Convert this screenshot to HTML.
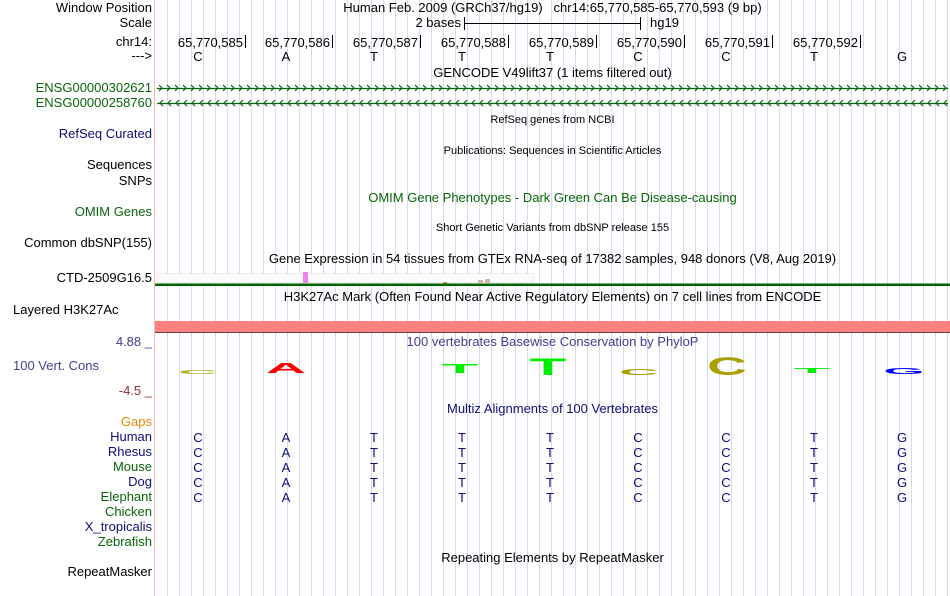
<!DOCTYPE html>
<html><head><meta charset="utf-8"><style>
body{margin:0;width:950px;height:596px;overflow:hidden;background:#fff;position:relative;font-family:"Liberation Sans",sans-serif;font-size:13px;color:#000}
.grid{position:absolute;left:155px;top:0;width:795px;height:596px;background:repeating-linear-gradient(to right,transparent 0,transparent 11px,#d8d8f0 11px,#d8d8f0 12px);background-position:1px 0}
.pl{position:absolute;left:154px;top:0;width:1px;height:596px;background:#ffb8b8}
.l{position:absolute;right:798px;line-height:14px;white-space:nowrap;text-align:right}
.t{position:absolute;left:155px;width:795px;text-align:center;line-height:14px;white-space:nowrap}
.s{font-size:11px}
.a{position:absolute;line-height:14px;white-space:nowrap}
.n{color:#0e0e78}.g{color:#0a640a}
</style></head><body>
<div class="grid"></div><div class="pl"></div>

<div class="l" style="top:1px">Window Position</div>
<div class="l" style="top:16px">Scale</div>
<div class="l" style="top:35px">chr14:</div>
<div class="l" style="top:49px">---&gt;</div>
<div class="l g" style="top:81px">ENSG00000302621</div>
<div class="l g" style="top:96px">ENSG00000258760</div>
<div class="l n" style="top:127px">RefSeq Curated</div>
<div class="l" style="top:158px">Sequences</div>
<div class="l" style="top:174px">SNPs</div>
<div class="l g" style="top:205px">OMIM Genes</div>
<div class="l" style="top:236px">Common dbSNP(155)</div>
<div class="l" style="top:271px">CTD-2509G16.5</div>
<div class="a" style="left:13px;top:303px">Layered H3K27Ac</div>
<div class="l" style="top:335px;color:#404090">4.88 _</div>
<div class="a" style="left:13px;top:359px;color:#404090">100 Vert. Cons</div>
<div class="l" style="top:384px;color:#8a3030">-4.5 _</div>
<div class="l" style="top:415px;color:#e08a00">Gaps</div>
<div class="l n" style="top:430px">Human</div>
<div class="l n" style="top:445px">Rhesus</div>
<div class="l g" style="top:460px">Mouse</div>
<div class="l n" style="top:475px">Dog</div>
<div class="l g" style="top:490px">Elephant</div>
<div class="l g" style="top:505px">Chicken</div>
<div class="l n" style="top:520px">X_tropicalis</div>
<div class="l g" style="top:535px">Zebrafish</div>
<div class="l" style="top:565px">RepeatMasker</div>

<div class="t" style="top:1px">Human Feb. 2009 (GRCh37/hg19) &nbsp; chr14:65,770,585-65,770,593 (9 bp)</div>
<div class="a" style="right:489px;top:16px">2 bases</div>
<div class="a" style="left:650px;top:16px">hg19</div>
<div class="t" style="top:66px">GENCODE V49lift37 (1 items filtered out)</div>
<div class="t s" style="top:113px">RefSeq genes from NCBI</div>
<div class="t s" style="top:144px">Publications: Sequences in Scientific Articles</div>
<div class="t g" style="top:191px">OMIM Gene Phenotypes - Dark Green Can Be Disease-causing</div>
<div class="t s" style="top:221px">Short Genetic Variants from dbSNP release 155</div>
<div class="t" style="top:252px">Gene Expression in 54 tissues from GTEx RNA-seq of 17382 samples, 948 donors (V8, Aug 2019)</div>
<div class="t" style="top:290px">H3K27Ac Mark (Often Found Near Active Regulatory Elements) on 7 cell lines from ENCODE</div>
<div class="t" style="top:335px;color:#404090">100 vertebrates Basewise Conservation by PhyloP</div>
<div class="t n" style="top:402px">Multiz Alignments of 100 Vertebrates</div>
<div class="t" style="top:551px">Repeating Elements by RepeatMasker</div>

<svg width="950" height="596" style="position:absolute;left:0;top:0" xmlns="http://www.w3.org/2000/svg">
<defs>
<pattern id="rc" x="157" y="84" width="8" height="8" patternUnits="userSpaceOnUse"><path d="M2 1 L5 4 L2 7" fill="none" stroke="#0a640a" stroke-width="1.2"/></pattern>
<pattern id="lc" x="157" y="99" width="8" height="8" patternUnits="userSpaceOnUse"><path d="M6 1 L3 4 L6 7" fill="none" stroke="#0a640a" stroke-width="1.2"/></pattern>
</defs>
<g stroke="#000" stroke-width="1">
<line x1="464.5" y1="23.5" x2="640.5" y2="23.5"/><line x1="464.5" y1="17" x2="464.5" y2="30"/><line x1="640.5" y1="17" x2="640.5" y2="30"/>
<line x1="245.5" y1="35" x2="245.5" y2="48"/><line x1="332.5" y1="35" x2="332.5" y2="48"/><line x1="420.5" y1="35" x2="420.5" y2="48"/><line x1="508.5" y1="35" x2="508.5" y2="48"/><line x1="596.5" y1="35" x2="596.5" y2="48"/><line x1="684.5" y1="35" x2="684.5" y2="48"/><line x1="772.5" y1="35" x2="772.5" y2="48"/><line x1="860.5" y1="35" x2="860.5" y2="48"/>
</g>
<g font-family="Liberation Sans" font-size="13" text-anchor="end">
<text x="243" y="47">65,770,585</text><text x="330" y="47">65,770,586</text><text x="418" y="47">65,770,587</text><text x="506" y="47">65,770,588</text><text x="594" y="47">65,770,589</text><text x="682" y="47">65,770,590</text><text x="770" y="47">65,770,591</text><text x="858" y="47">65,770,592</text>
</g>
<g font-family="Liberation Sans" font-size="13" text-anchor="middle">
<text x="198" y="61">C</text><text x="286" y="61">A</text><text x="374" y="61">T</text><text x="462" y="61">T</text><text x="550" y="61">T</text><text x="638" y="61">C</text><text x="726" y="61">C</text><text x="814" y="61">T</text><text x="902" y="61">G</text>
</g>
<rect x="157" y="84" width="791" height="8" fill="url(#rc)"/><line x1="157" y1="88.5" x2="948" y2="88.5" stroke="#0a640a" stroke-width="1.3"/>
<rect x="157" y="99" width="791" height="8" fill="url(#lc)"/><line x1="157" y1="103.5" x2="948" y2="103.5" stroke="#0a640a" stroke-width="1.3"/>
<rect x="157.5" y="273.5" width="376" height="9" fill="#fcfcfc" stroke="#ececec"/>
<rect x="303" y="272" width="5" height="11" fill="#ee82ee"/>
<rect x="443" y="282" width="4" height="1.5" fill="#c89040"/>
<rect x="478" y="280" width="5" height="3" fill="#d0b8a8"/><rect x="485" y="279" width="5" height="4" fill="#d0b8a8"/>
<rect x="155" y="283.5" width="795" height="2.5" fill="#006400"/>
<rect x="155" y="321" width="795" height="11" fill="#ff8080"/>
<rect x="155" y="332" width="795" height="1" fill="#604040"/>
<g font-family="Liberation Sans" font-weight="bold" font-size="10" text-anchor="middle">
<text transform="translate(198,374) scale(5.5,0.55)" fill="#b0b020">C</text>
<text transform="translate(286,373) scale(5.6,1.5)" fill="#ff0000">A</text>
<text transform="translate(460,373) scale(6,1.25)" fill="#00ee00">T</text>
<text transform="translate(548,375) scale(6,2.36)" fill="#00ee00">T</text>
<text transform="translate(639,375) scale(5.5,0.83)" fill="#a8a000">C</text>
<text transform="translate(727,375) scale(5.5,2.5)" fill="#a8a000">C</text>
<text transform="translate(812,373) scale(6,0.7)" fill="#00ee00">T</text>
<text transform="translate(904,374) scale(5.3,0.83)" fill="#0000ff">G</text>
</g>
<g font-family="Liberation Sans" font-size="13" text-anchor="middle" fill="#0e0e78">
<text x="198" y="442">C</text><text x="286" y="442">A</text><text x="374" y="442">T</text><text x="462" y="442">T</text><text x="550" y="442">T</text><text x="638" y="442">C</text><text x="726" y="442">C</text><text x="814" y="442">T</text><text x="902" y="442">G</text>
<text x="198" y="457">C</text><text x="286" y="457">A</text><text x="374" y="457">T</text><text x="462" y="457">T</text><text x="550" y="457">T</text><text x="638" y="457">C</text><text x="726" y="457">C</text><text x="814" y="457">T</text><text x="902" y="457">G</text>
<text x="198" y="472">C</text><text x="286" y="472">A</text><text x="374" y="472">T</text><text x="462" y="472">T</text><text x="550" y="472">T</text><text x="638" y="472">C</text><text x="726" y="472">C</text><text x="814" y="472">T</text><text x="902" y="472">G</text>
<text x="198" y="487">C</text><text x="286" y="487">A</text><text x="374" y="487">T</text><text x="462" y="487">T</text><text x="550" y="487">T</text><text x="638" y="487">C</text><text x="726" y="487">C</text><text x="814" y="487">T</text><text x="902" y="487">G</text>
<text x="198" y="502">C</text><text x="286" y="502">A</text><text x="374" y="502">T</text><text x="462" y="502">T</text><text x="550" y="502">T</text><text x="638" y="502">C</text><text x="726" y="502">C</text><text x="814" y="502">T</text><text x="902" y="502">G</text>
</g>
</svg>
</body></html>
